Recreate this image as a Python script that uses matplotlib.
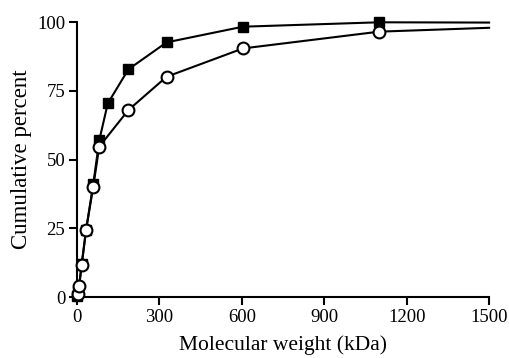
import matplotlib.pyplot as plt

# Molecular weight (kDa) and cumulative percent
mw_filled = [0, 5, 17, 33, 59, 81, 112, 187, 326, 604, 1100, 1500]
pct_filled = [0.5, 2.0, 12.0, 24.5, 41.0, 57.0, 70.4, 82.8, 92.6, 98.3, 99.9, 99.8]

mw_open = [2, 8, 17, 33, 59, 81, 187, 326, 604, 1100, 1500]
pct_open = [1.0, 4.1, 11.6, 24.4, 40.1, 54.7, 68.0, 80.1, 90.4, 96.5, 97.9]

x_ticks = [0, 300, 600, 900, 1200, 1500]
y_ticks = [0, 25, 50, 75, 100]

plt.rcParams['font.family'] = ['Liberation Serif', 'DejaVu Serif']

fig = plt.figure(figsize=(5.1, 3.58), dpi=100)
ax = fig.add_axes([0.151, 0.170, 0.808, 0.7685])

# lines extend to 1500 without a marker on the last point
ax.plot(mw_filled, pct_filled, color='black', lw=1.5, clip_on=False, zorder=2)
ax.plot(mw_filled[:-1], pct_filled[:-1], linestyle='none', marker='s', ms=7.5,
        mfc='black', mec='black', clip_on=False, zorder=3)
ax.plot(mw_open, pct_open, color='black', lw=1.5, clip_on=False, zorder=4)
ax.plot(mw_open[:-1], pct_open[:-1], linestyle='none', marker='o', ms=8.5,
        mfc='white', mec='black', mew=1.5, clip_on=False, zorder=5)

ax.set_xlim(0, 1500)
ax.set_ylim(0, 100)
ax.set_xticks(x_ticks)
ax.set_yticks(y_ticks)
ax.tick_params(labelsize=13.5, width=1.5, length=5.5, direction='out', pad=3)

for side in ['top', 'right']:
    ax.spines[side].set_visible(False)
for side in ['left', 'bottom']:
    ax.spines[side].set_linewidth(1.5)

ax.set_xlabel("Molecular weight (kDa)", fontsize=15.5, labelpad=7)
ax.set_ylabel("Cumulative percent", fontsize=16.5, labelpad=4)

plt.savefig("out.png", dpi=100)
